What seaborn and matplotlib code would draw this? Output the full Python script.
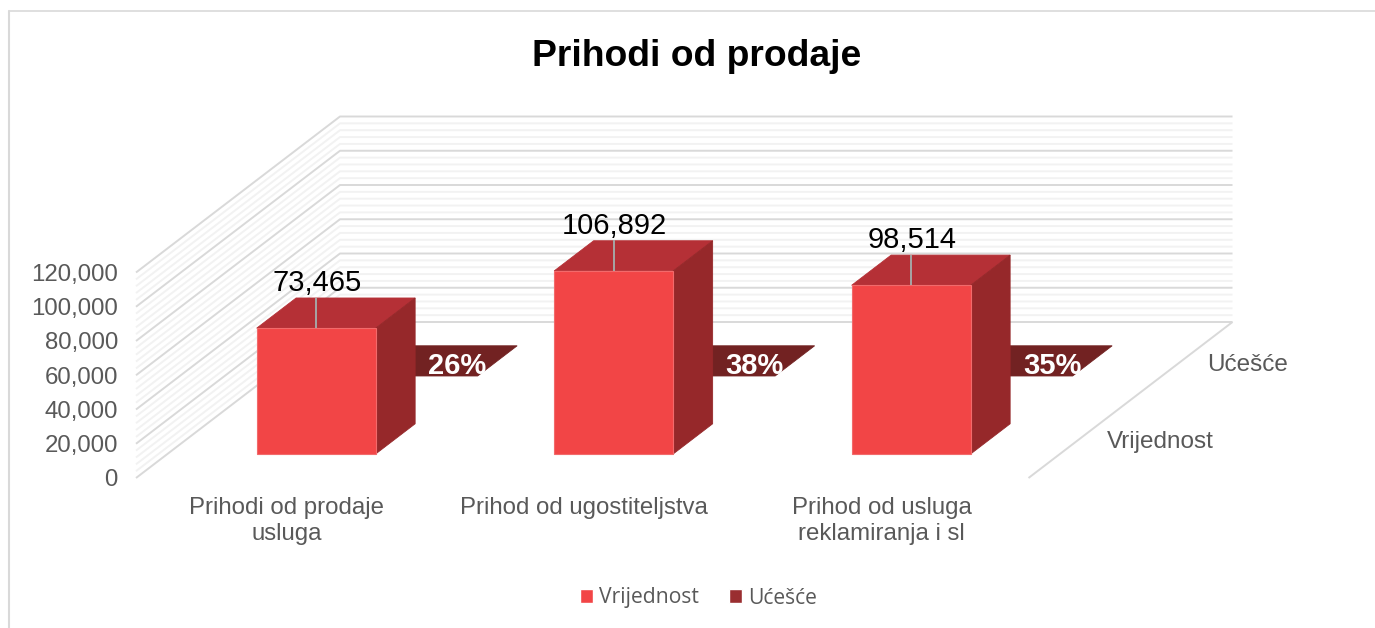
#!/usr/bin/env python3
"""Prihodi od prodaje - Excel style 3D column chart drawn on seaborn bars."""

import matplotlib
matplotlib.use("Agg")
import matplotlib.pyplot as plt
import numpy as np
import pandas as pd
import seaborn as sns
from matplotlib.lines import Line2D
from matplotlib.patches import Patch, Polygon
from matplotlib.transforms import Affine2D, IdentityTransform

categories = ["Prihodi od prodaje\nusluga", "Prihod od ugostiteljstva", "Prihod od usluga\nreklamiranja i sl"]
vrijednost = [73465, 106892, 98514]
ucesce = [0.26, 0.38, 0.35]
series_names = ["Vrijednost", "Ućešće"]
major_ticks = [0, 20000, 40000, 60000, 80000, 100000, 120000]
minor_step = 4000

# colours
RED_FRONT = "#F24546"
RED_TOP = "#B53036"
RED_SIDE = "#96282A"
DARK_TOP = "#722222"
GREY_TEXT = "#595959"
GRID_MAJOR = "#D9D9D9"
GRID_MINOR = "#F2F2F2"

# depth axis in pixels per series slot, and where a bar sits in its slot
DX, DY = 102.0, 78.0
D_FRONT, D_BACK = 0.308, 0.695
BAR_WIDTH = 0.4

sns.set_style("white")
plt.rcParams["font.family"] = ["Liberation Sans", "DejaVu Sans"]

fig = plt.figure(figsize=(13.75, 6.28), dpi=100)
ax = fig.add_axes([136 / 1375, 150 / 628, 892.5 / 1375, 205.5 / 628])
ax.patch.set_alpha(0)

df = pd.DataFrame({"kategorija": categories, "Vrijednost": vrijednost, "Ucesce": ucesce})
sns.barplot(data=df, x="kategorija", y="Ucesce", color=DARK_TOP, saturation=1, width=BAR_WIDTH, ax=ax, zorder=2)
n_back = len(ax.patches)
sns.barplot(data=df, x="kategorija", y="Vrijednost", color=RED_FRONT, saturation=1, width=BAR_WIDTH, ax=ax, zorder=4)

ax.set_xlim(-0.5, 2.5)
ax.set_ylim(0, 120000)
ax.set_xlabel("")
ax.set_ylabel("")
ax.set_yticks(major_ticks)
ax.set_yticklabels([f"{t:,}" for t in major_ticks])
ax.tick_params(axis="y", length=0, pad=13, labelsize=17.3, labelcolor=GREY_TEXT)
ax.tick_params(axis="x", length=0, pad=13.5, labelsize=17.3, labelcolor=GREY_TEXT)
for lab in ax.get_xticklabels():
    lab.set_linespacing(1.27)
    lab.set_transform(lab.get_transform() + Affine2D().translate(2, 0))
sns.despine(ax=ax, left=True, bottom=True)


def project(x, v, depth):
    """Data position plus depth slot -> display pixels."""
    px, py = ax.transData.transform((x, v))
    return px + depth * DX, py + depth * DY


def face(points, color, zorder):
    ax.add_patch(Polygon(points, closed=True, facecolor=color, edgecolor=color, linewidth=0.6,
                         transform=IdentityTransform(), clip_on=False, zorder=zorder))


def wall_line(xs, ys, color, lw, zorder):
    ax.add_line(Line2D(xs, ys, color=color, linewidth=lw, transform=IdentityTransform(),
                       clip_on=False, zorder=zorder, solid_capstyle="butt"))


# walls: minor lines first, major on top
for v in np.arange(0, major_ticks[-1] + 1, minor_step):
    is_major = v in major_ticks
    color = GRID_MAJOR if is_major else GRID_MINOR
    z = 1 if is_major else 0.5
    a = project(-0.5, v, 0)
    b = project(-0.5, v, 2)
    c = project(2.5, v, 2)
    wall_line([a[0], b[0], c[0]], [a[1], b[1], c[1]], color, 1.4, z)
# floor edge on the right
a = project(2.5, 0, 2)
b = project(2.5, 0, 0)
wall_line([a[0], b[0]], [a[1], b[1]], GRID_MAJOR, 1.4, 1)

# shift the seaborn bars back into their depth slots
for i, bar in enumerate(ax.patches[:2 * n_back]):
    slot = 1 + D_FRONT if i < n_back else D_FRONT
    bar.set_transform(ax.transData + Affine2D().translate(slot * DX, slot * DY))
    bar.set_clip_on(False)
    if i >= n_back:
        bar.set_edgecolor("#F26A6B")
        bar.set_linewidth(0.8)

half = BAR_WIDTH / 2
for i in range(len(categories)):
    # Ucesce: share values are flat on this scale, only the top shows
    d0, d1 = 1 + D_FRONT, 1 + D_BACK
    v = ucesce[i]
    face([project(i - half, v, d0), project(i + half, v, d0), project(i + half, v, d1), project(i - half, v, d1)],
         DARK_TOP, 2.5)
    tx, ty = project(i, v, d1)
    ax.text(tx - 0.5, ty - 20, f"{ucesce[i]:.0%}", transform=IdentityTransform(), color="white", fontsize=21,
            fontweight="bold", ha="center", va="center", zorder=3, clip_on=False)

    # Vrijednost: top and side faces of the box
    d0, d1 = D_FRONT, D_BACK
    v = vrijednost[i]
    face([project(i - half, v, d0), project(i + half, v, d0), project(i + half, v, d1), project(i - half, v, d1)],
         RED_TOP, 3.5)
    face([project(i + half, 0, d0), project(i + half, v, d0), project(i + half, v, d1), project(i + half, 0, d1)],
         RED_SIDE, 3.5)

    # leader line and value label
    lx, ly = project(i, v, d0)
    wall_line([lx, lx], [ly, ly + 30.5], "#A6A6A6", 1.4, 5)
    ax.text(lx + 0.5, ly + 45, f"{v:,}", transform=IdentityTransform(), color="black", fontsize=21,
            ha="center", va="center", zorder=6, clip_on=False)

# labels along the depth axis
fig.text(1160 / 1375, 1 - 442 / 628, series_names[0], fontsize=17.5, color=GREY_TEXT, ha="center", va="center")
fig.text(1248 / 1375, 1 - 365 / 628, series_names[1], fontsize=17.5, color=GREY_TEXT, ha="center", va="center")

fig.text(697 / 1375, 1 - 57 / 628, "Prihodi od prodaje", fontsize=26.8, fontweight="bold", color="black",
         ha="center", va="center")

handles = [Patch(facecolor=RED_FRONT, label=series_names[0]), Patch(facecolor="#9A2E30", label=series_names[1])]
fig.legend(handles=handles, loc="center", bbox_to_anchor=(698.5 / 1375, 1 - 598 / 628), ncol=2, frameon=False,
           prop={"family": "Open Sans", "size": 15.2}, labelcolor=GREY_TEXT, handlelength=0.62, handleheight=0.62,
           handletextpad=0.3, columnspacing=1.4)

# chart frame, only left and top edges are inside the crop
fig.add_artist(Line2D([9 / 1375, 9 / 1375], [0, 1 - 11 / 628], color=GRID_MAJOR, linewidth=1.5))
fig.add_artist(Line2D([9 / 1375, 1], [1 - 11 / 628, 1 - 11 / 628], color=GRID_MAJOR, linewidth=1.2))

fig.savefig("out.png", dpi=100)
